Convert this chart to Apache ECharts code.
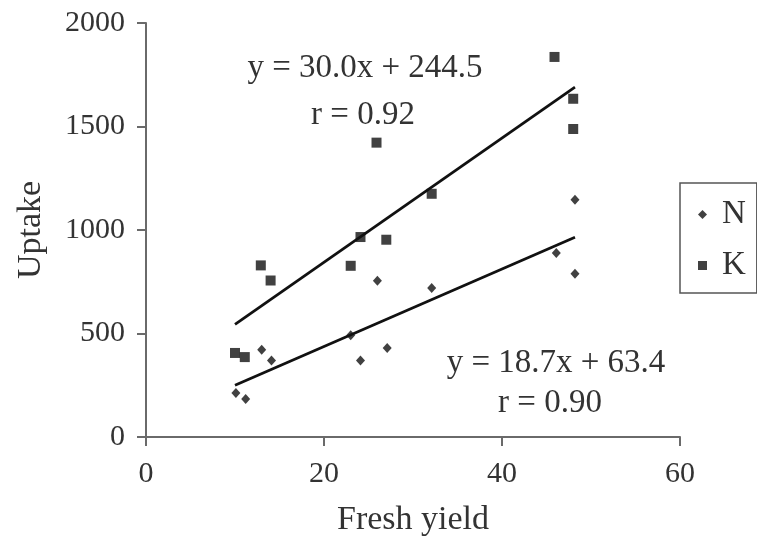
<!DOCTYPE html>
<html>
<head>
<meta charset="utf-8">
<script src="https://cdn.jsdelivr.net/npm/echarts@6/dist/echarts.min.js"></script>
<style>
html,body{margin:0;padding:0;background:#fff;}
#chart{width:757px;height:543px;}
</style>
</head>
<body>
<div id="chart"></div>
<script>
// Data
const nYield = [10.1, 11.2, 13.0, 14.1, 23.0, 24.1, 26.0, 27.1, 32.1, 46.1, 48.2, 48.2];
const nUptake = [213, 184, 422, 369, 491, 369, 755, 430, 720, 889, 1146, 789];
const kYield = [10.0, 11.1, 12.9, 14.0, 23.0, 24.1, 25.9, 27.0, 32.1, 45.9, 48.0, 48.0];
const kUptake = [406, 386, 829, 756, 827, 966, 1422, 953, 1175, 1836, 1634, 1488];
// Fitted regression lines (end points)
const fitYield = [10, 48.2];
const kFit = [544.5, 1690.5];
const nFit = [250.4, 964.7];
const xTicks = [0, 20, 40, 60];
const yTicks = [0, 500, 1000, 1500, 2000];
const kEquation = 'y = 30.0x + 244.5';
const kR = 'r = 0.92';
const nEquation = 'y = 18.7x + 63.4';
const nR = 'r = 0.90';

const pairs = (xs, ys) => xs.map((x, i) => [x, ys[i]]);

const FONT = '"Liberation Serif", "Times New Roman", serif';
const TXT = '#333';
const AXIS = '#6a6a6a';

const chart = echarts.init(document.getElementById('chart'));
chart.setOption({
  backgroundColor: '#fff',
  animation: false,
  grid: { left: 146, right: 77, top: 23, bottom: 106, containLabel: false, outerBoundsMode: 'none' },
  xAxis: {
    type: 'value', min: xTicks[0], max: xTicks[xTicks.length - 1], interval: 20,
    name: 'Fresh yield', nameLocation: 'middle', nameGap: 66,
    nameTextStyle: { fontFamily: FONT, fontSize: 34, color: TXT },
    axisLine: { show: true, onZero: false, lineStyle: { color: AXIS, width: 2 } },
    axisTick: { show: true, inside: false, length: 9, lineStyle: { color: AXIS, width: 2 } },
    axisLabel: { fontFamily: FONT, fontSize: 30, color: TXT, margin: 22, formatter: v => String(v) },
    splitLine: { show: false }
  },
  yAxis: {
    type: 'value', min: yTicks[0], max: yTicks[yTicks.length - 1], interval: 500,
    name: 'Uptake', nameLocation: 'middle', nameGap: 98, nameRotate: 90,
    nameTextStyle: { fontFamily: FONT, fontSize: 34, color: TXT },
    axisLine: { show: true, onZero: false, lineStyle: { color: AXIS, width: 2 } },
    axisTick: { show: true, inside: false, length: 9, lineStyle: { color: AXIS, width: 2 } },
    axisLabel: { fontFamily: FONT, fontSize: 30, color: TXT, margin: 21, formatter: v => String(v) },
    splitLine: { show: false }
  },
  legend: {
    orient: 'vertical', left: 680, top: 183,
    data: [{ name: 'N', icon: 'diamond' }, { name: 'K', icon: 'rect' }],
    itemWidth: 9, itemHeight: 9, itemGap: 18,
    padding: [15, 11, 11, 18],
    borderColor: '#555', borderWidth: 1.5, borderRadius: 0,
    textStyle: { fontFamily: FONT, fontSize: 33, color: TXT, padding: [0, 0, 0, 10] }
  },
  series: [
    {
      name: 'N', type: 'scatter', symbol: 'diamond', symbolSize: [9, 10],
      itemStyle: { color: '#111' }, data: pairs(nYield, nUptake), z: 3
    },
    {
      name: 'K', type: 'scatter', symbol: 'rect', symbolSize: 10,
      itemStyle: { color: '#111' }, data: pairs(kYield, kUptake), z: 3
    },
    {
      name: 'K fit', type: 'line', showSymbol: false, symbol: 'none',
      lineStyle: { color: '#111', width: 2.8 }, data: pairs(fitYield, kFit), z: 2
    },
    {
      name: 'N fit', type: 'line', showSymbol: false, symbol: 'none',
      lineStyle: { color: '#111', width: 2.8 }, data: pairs(fitYield, nFit), z: 2
    }
  ],
  graphic: [
    { type: 'text', style: { text: kEquation, x: 365, y: 68, align: 'center', verticalAlign: 'middle', font: '33px ' + FONT, fill: TXT } },
    { type: 'text', style: { text: kR, x: 363, y: 115, align: 'center', verticalAlign: 'middle', font: '33px ' + FONT, fill: TXT } },
    { type: 'text', style: { text: nEquation, x: 556, y: 363, align: 'center', verticalAlign: 'middle', font: '33px ' + FONT, fill: TXT } },
    { type: 'text', style: { text: nR, x: 550, y: 403, align: 'center', verticalAlign: 'middle', font: '33px ' + FONT, fill: TXT } }
  ]
});
</script>
</body>
</html>
